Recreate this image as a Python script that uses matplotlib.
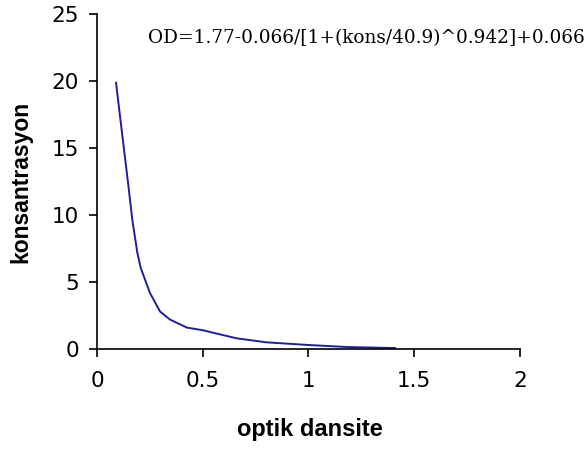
import numpy as np
import matplotlib
matplotlib.use("Agg")
import matplotlib.pyplot as plt

# optik dansite - konsantrasyon egrisi
od = [0.090, 0.109, 0.128, 0.148, 0.167, 0.191, 0.207, 0.25, 0.298, 0.345,
      0.425, 0.50, 0.66, 0.80, 1.0, 1.18, 1.41]
kons = [19.87, 17.34, 14.85, 12.24, 9.63, 7.16, 6.04, 4.2, 2.8, 2.2,
        1.6, 1.4, 0.8, 0.5, 0.3, 0.15, 0.07]
denklem = "OD=1.77-0.066/[1+(kons/40.9)^0.942]+0.066"

plt.rcParams['font.family'] = ['DejaVu Sans']

fig = plt.figure(figsize=(5.88, 4.49), dpi=100)
ax = fig.add_axes([0.165, 0.2227, 0.719, 0.7461])

ax.plot(od, kons, color='#1f1f99', lw=1.4)

ax.set_xlim(0, 2)
ax.set_ylim(0, 25)
ax.set_xticks([0, 0.5, 1, 1.5, 2])
ax.set_xticklabels(['0', '0.5', '1', '1.5', '2'])
ax.set_yticks([0, 5, 10, 15, 20, 25])

for s in ['top', 'right']:
    ax.spines[s].set_visible(False)
for s in ['left', 'bottom']:
    ax.spines[s].set_linewidth(1.2)
ax.tick_params(direction='out', length=6, width=1.2, labelsize=15.5)
ax.tick_params(axis='x', pad=10)
ax.tick_params(axis='y', pad=7)

ax.set_xlabel('optik dansite', fontsize=17, fontweight='bold', family=['Liberation Sans'])
ax.set_ylabel('konsantrasyon', fontsize=16.5, fontweight='bold', family=['Liberation Sans'])
ax.xaxis.set_label_coords(0.503, -0.205)
ax.yaxis.set_label_coords(-0.154, 0.5)

fig.text(148 / 588, 1 - 43 / 449, denklem, fontsize=13.3, family=['DejaVu Serif'],
         va='baseline', ha='left')

fig.savefig('out.png', dpi=100, facecolor='white')
